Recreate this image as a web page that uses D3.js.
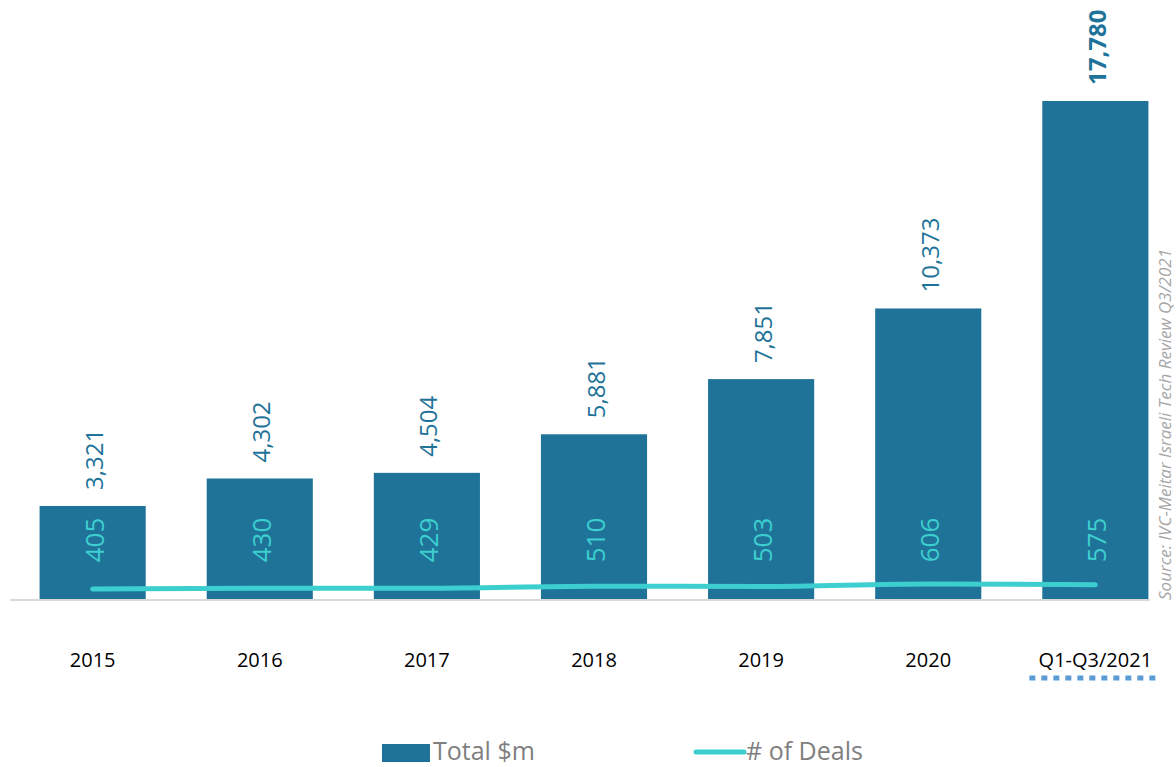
<!DOCTYPE html>
<html>
<head>
<meta charset="utf-8">
<script src="https://cdn.jsdelivr.net/npm/d3@7"></script>
<style>
  body { margin: 0; background: #fff; }
  svg { display: block; font-family: "Open Sans", "Noto Sans", sans-serif; }
</style>
</head>
<body>
<div id="chart"></div>
<script>
// The data
const categories = ["2015", "2016", "2017", "2018", "2019", "2020", "Q1-Q3/2021"];
const totalValues = [3321, 4302, 4504, 5881, 7851, 10373, 17780];
const dealValues = [405, 430, 429, 510, 503, 606, 575];

const width = 1176;
const height = 767;
const baseline = 599;

const barColor = "#1f7399";
const dealColor = "#3dcfcf";

const svg = d3.select("#chart").append("svg")
    .attr("width", width)
    .attr("height", height);

// x scale for the categories
const x = d3.scaleBand()
    .domain(categories)
    .range([9.5, 1178.5])
    .paddingInner(0.365)
    .paddingOuter(0.18);

// y scale for the total $m bars
const y = d3.scaleLinear()
    .domain([0, 17780])
    .range([baseline, 101]);

// secondary y scale for number of deals
const yDeals = d3.scaleLinear()
    .domain([0, 24000])
    .range([baseline, 0]);

// the bars
svg.selectAll(".bar")
    .data(categories)
    .enter()
    .append("rect")
    .attr("class", "bar")
    .attr("x", d => x(d))
    .attr("y", (d, i) => y(totalValues[i]))
    .attr("width", x.bandwidth())
    .attr("height", (d, i) => baseline - y(totalValues[i]))
    .attr("fill", barColor);

// the baseline axis
svg.append("line")
    .attr("x1", 10).attr("x2", 1150)
    .attr("y1", baseline + 1).attr("y2", baseline + 1)
    .attr("stroke", "#d9d9d9")
    .attr("stroke-width", 2);

// the deals line
const line = d3.line()
    .x((d, i) => x(categories[i]) + x.bandwidth() / 2)
    .y(d => yDeals(d))
    .curve(d3.curveMonotoneX);

svg.append("path")
    .datum(dealValues)
    .attr("d", line)
    .attr("fill", "none")
    .attr("stroke", dealColor)
    .attr("stroke-width", 5)
    .attr("stroke-linecap", "round");

// the total labels above the bars
svg.selectAll(".total-label")
    .data(categories)
    .enter()
    .append("text")
    .attr("class", "total-label")
    .attr("transform", (d, i) => `translate(${x(d) + x.bandwidth() / 2 + 1},${y(totalValues[i]) - 16}) rotate(-90)`)
    .attr("dominant-baseline", "central")
    .attr("text-anchor", "start")
    .attr("fill", barColor)
    .attr("font-size", 24)
    .attr("font-weight", (d, i) => i === categories.length - 1 ? 700 : 400)
    .text((d, i) => d3.format(",")(totalValues[i]));

// the deals labels inside the bars
svg.selectAll(".deal-label")
    .data(categories)
    .enter()
    .append("text")
    .attr("class", "deal-label")
    .attr("transform", d => `translate(${x(d) + x.bandwidth() / 2 + 1},540) rotate(-90)`)
    .attr("dominant-baseline", "central")
    .attr("text-anchor", "middle")
    .attr("fill", dealColor)
    .attr("font-size", 26)
    .text((d, i) => dealValues[i]);

// the category labels
svg.selectAll(".cat-label")
    .data(categories)
    .enter()
    .append("text")
    .attr("class", "cat-label")
    .attr("x", d => x(d) + x.bandwidth() / 2)
    .attr("y", 667)
    .attr("text-anchor", "middle")
    .attr("fill", "#000")
    .attr("font-size", 20)
    .text(d => d);

// dotted underline under the last category
const lastCenter = x(categories[categories.length - 1]) + x.bandwidth() / 2;
svg.append("line")
    .attr("x1", lastCenter - 66).attr("x2", lastCenter + 60)
    .attr("y1", 678).attr("y2", 678)
    .attr("stroke", "#5b9bd5")
    .attr("stroke-width", 5)
    .attr("stroke-dasharray", "6,6");

// the source note
svg.append("text")
    .attr("transform", "translate(1164,600) rotate(-90)")
    .attr("dominant-baseline", "central")
    .attr("text-anchor", "start")
    .attr("fill", "#a6a6a6")
    .attr("font-size", 17)
    .attr("font-style", "italic")
    .text("Source: IVC-Meitar Israeli Tech Review Q3/2021");

// the legend
const legend = svg.append("g");
legend.append("rect")
    .attr("x", 382).attr("y", 744)
    .attr("width", 48).attr("height", 18)
    .attr("fill", barColor);
legend.append("text")
    .attr("x", 433).attr("y", 760)
    .attr("fill", "#7f7f7f")
    .attr("font-size", 25)
    .text("Total $m");
legend.append("line")
    .attr("x1", 696).attr("x2", 744)
    .attr("y1", 752).attr("y2", 752)
    .attr("stroke", dealColor)
    .attr("stroke-width", 5)
    .attr("stroke-linecap", "round");
legend.append("text")
    .attr("x", 746).attr("y", 760)
    .attr("fill", "#7f7f7f")
    .attr("font-size", 25)
    .text("# of Deals");
</script>
</body>
</html>
